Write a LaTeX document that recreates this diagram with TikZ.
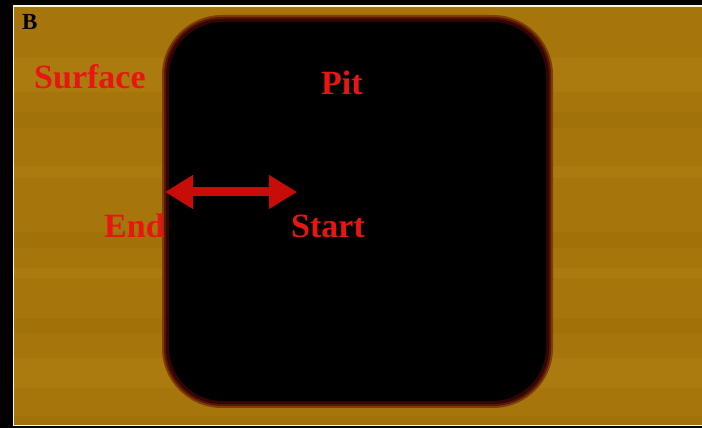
\documentclass[tikz,border=0pt]{standalone}
\usepackage{fontspec}
\setmainfont{Liberation Serif}
\usetikzlibrary{arrows.meta}
\definecolor{bgorange}{RGB}{166,118,12}
\definecolor{bglight}{RGB}{171,123,15}
\definecolor{bgdark}{RGB}{161,113,10}
\definecolor{labelred}{RGB}{232,22,18}
\definecolor{arrowred}{RGB}{200,12,10}
\definecolor{halo1}{RGB}{125,62,8}
\definecolor{halo2}{RGB}{90,22,6}
\definecolor{halo3}{RGB}{50,6,3}
\tikzset{
  lbl/.style={text=labelred, font=\bfseries\fontsize{34}{34}\selectfont, inner sep=0pt, anchor=base west},
  band/.style={fill=#1, draw=none},
}
\begin{document}
\begin{tikzpicture}[x=1pt,y=1pt]
% frame
\fill[black] (0,0) rectangle (702,428);
\useasboundingbox (0,0) rectangle (702,428);
\fill[white!85!yellow] (13,2) rectangle (702,423);
\fill[bgorange] (14,3) rectangle (702,421);
% subtle horizontal stripes
\fill[band=bglight] (14,336) rectangle (702,370);
\fill[band=bgdark] (14,300) rectangle (702,316);
\fill[band=bglight] (14,250) rectangle (702,262);
\fill[band=bgdark] (14,180) rectangle (702,196);
\fill[band=bglight] (14,150) rectangle (702,160);
\fill[band=bgdark] (14,95) rectangle (702,110);
\fill[band=bglight] (14,40) rectangle (702,70);
\fill[band=bgdark] (14,3) rectangle (702,12);
% pit with halo
\fill[halo1, rounded corners=60pt] (162,20) rectangle (553,413);
\fill[halo2, rounded corners=58pt] (164,22) rectangle (551,411);
\fill[halo3, rounded corners=56pt] (166,24) rectangle (549,409);
\fill[black, rounded corners=54pt] (169,27) rectangle (546,406);
% labels
\node[inner sep=0pt, anchor=base west, font=\bfseries\fontsize{23}{23}\selectfont] (B) at (22,398) {B};
\node[lbl] (surface) at (34,339) {Surface};
\node[lbl] (pit) at (321,333) {Pit};
\node[lbl] (end) at (104,190) {End};
\node[lbl] (start) at (291,190) {Start};
% arrow
\coordinate (arrL) at (165,236);
\coordinate (arrR) at (297,236);
\draw[arrowred, line width=9pt, {Triangle[length=28pt,width=32pt]}-{Triangle[length=28pt,width=32pt]}] (arrL) -- (arrR);
\end{tikzpicture}
\end{document}
